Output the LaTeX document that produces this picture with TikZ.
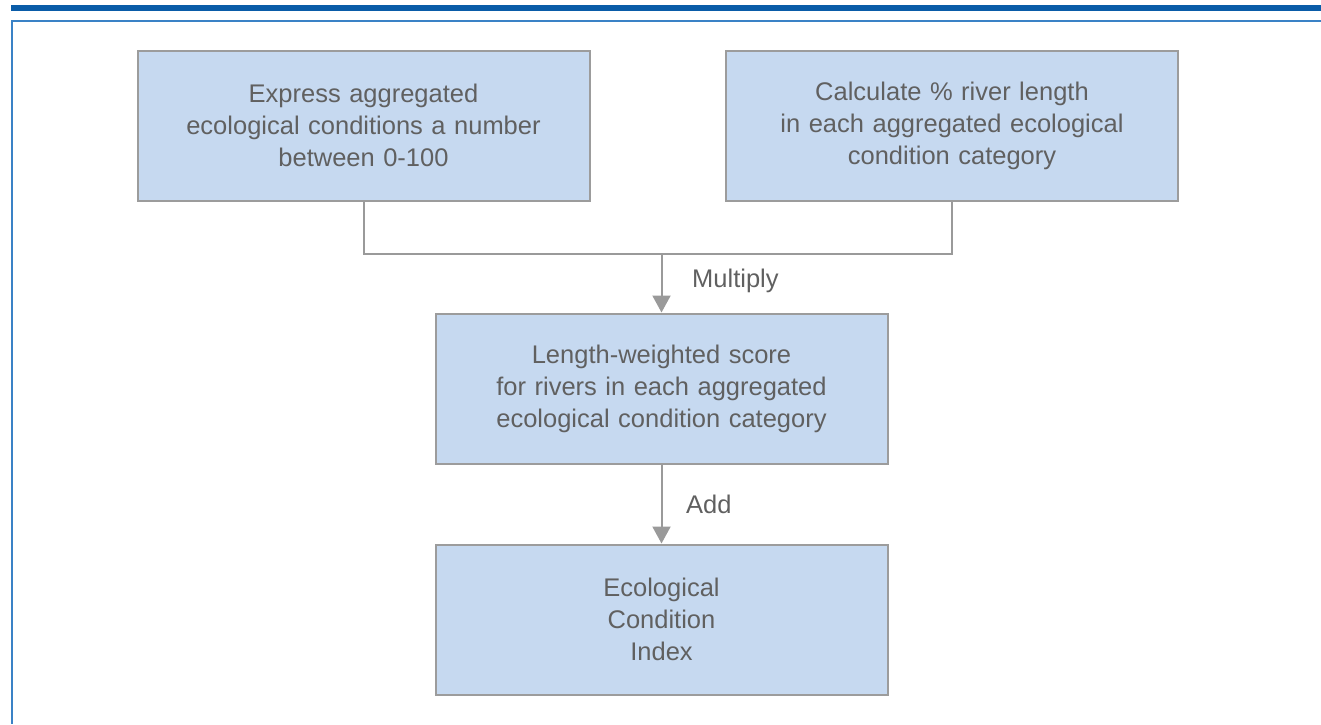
\documentclass[tikz,border=0pt]{standalone}
\usepackage{fontspec}
\setmainfont{Liberation Sans}
\usetikzlibrary{arrows.meta}
\definecolor{boxfill}{HTML}{C6D9F0}
\definecolor{boxline}{HTML}{9C9C9C}
\definecolor{txtgray}{HTML}{606060}
\definecolor{barblue}{HTML}{0A5CA8}
\definecolor{frameblue}{HTML}{3A82C6}
\definecolor{conngray}{HTML}{9A9A9A}
\tikzset{
  flowbox/.style={draw=boxline, line width=2pt, fill=boxfill, minimum width=452pt, minimum height=150pt,
    text width=440pt, align=center, text=txtgray, font=\fontsize{25.5}{32}\selectfont, inner sep=0pt},
  conn/.style={draw=conngray, line width=2pt},
  arr/.style={conn, -{Triangle[width=18pt,length=17pt]}},
  lbl/.style={text=txtgray, font=\fontsize{25.5}{28}\selectfont, anchor=west, inner sep=0pt}
}
\begin{document}
\begin{tikzpicture}[x=1pt,y=-1pt]
\useasboundingbox (0,0) rectangle (1321,724);
\fill[barblue] (11,5) rectangle (1321,10.7);
\draw[frameblue, line width=2pt] (1321,20.5) -- (12,20.5) -- (12,724);
\node[flowbox] (a) at (363.5,125.5) {Express aggregated\\ecological conditions a number\\between 0-100};
\node[flowbox] (b) at (952,125.5) {Calculate \% river length\\in each aggregated ecological\\condition category};
\node[flowbox] (c) at (661.5,388.5) {Length-weighted score\\for rivers in each aggregated\\ecological condition category};
\node[flowbox] (d) at (661.5,619.5) {Ecological\\Condition\\Index};
\coordinate (j) at (661.5,253.5);
\draw[conn] (a.south) |- (j) -| (b.south);
\draw[arr] (j) -- (c.north);
\draw[arr] (c.south) -- (d.north);
\node[lbl] (m) at (692,281) {Multiply};
\node[lbl] (ad) at (686,504) {Add};
\end{tikzpicture}
\end{document}
